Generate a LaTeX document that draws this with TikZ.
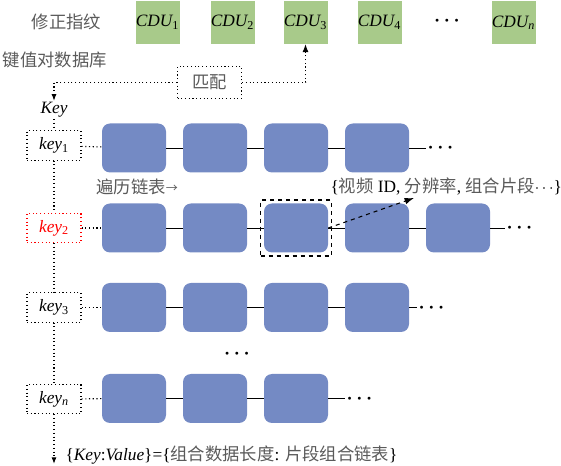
\documentclass[tikz,border=0pt]{standalone}
\usepackage{fontspec}
\setmainfont{Liberation Serif}
\newfontfamily\cjk{Noto Sans CJK SC}
\usetikzlibrary{positioning, arrows.meta}
\definecolor{blockblue}{RGB}{116,138,196}
\definecolor{cdugreen}{RGB}{168,202,138}
\definecolor{cjkgray}{RGB}{90,90,90}

\begin{document}
\begin{tikzpicture}[x=0.75pt, y=-0.75pt,
                  cdu/.style={fill=cdugreen, minimum width=33pt, minimum height=32pt, inner sep=0pt,
                              font=\fontsize{13}{15}\selectfont\itshape},
                  blk/.style={fill=blockblue, rounded corners=6pt, inner sep=0pt,
                              minimum width=48pt, minimum height=36.75pt},
                  keybox/.style={draw, dotted, thick, inner sep=0pt,
                                 minimum width=40.5pt, minimum height=22pt, font=\fontsize{13}{15}\selectfont},
                  lbl/.style={font=\fontsize{13}{15}\selectfont, text=cjkgray},
                  dots/.style={font=\fontsize{14}{15}\selectfont\boldmath, inner sep=1pt},
                  link/.style={thin},
                  conn/.style={dotted, thick},
            ]
            \useasboundingbox (0,0) rectangle (561,466);

            % ---- CDU row (TOP) ----
            \foreach \i/\x/\lab in {1/157.5/1, 2/232.5/2, 3/305.5/3, 4/379.5/4, n/513.5/\textit{n}}{
                        \node[cdu] (cdu\i) at (\x, 22.5) {CDU\textsubscript{\upshape\lab}};
                  }
            \node[dots] (cdudots) at (447, 21) {$\cdots$};
            \node[lbl, anchor=east] (title) at (106, 22) {\cjk 修正指纹};
            \node[lbl, anchor=west] (db) at (-2, 60) {\cjk 键值对数据库};

            % ---- matching ----
            \node[draw, dotted, thick, lbl, minimum width=48pt, minimum height=24pt] (match) at (209.5, 82.5) {\cjk 匹配};
            \node[font=\fontsize{13}{15}\selectfont\itshape, inner sep=1pt] (keylbl) at (54, 110) {Key};
            \draw[conn, -{Latex[length=5pt]}] (match.west) -| (keylbl.north);
            \draw[conn, -{Latex[length=6pt]}] (match.east) -| (cdu3.south);

            % ---- key column (LEFT) ----
            \node[keybox] (k1) at (54, 145.5) {\textit{key}\textsubscript{1}};
            \node[keybox, red, text=red] (k2) at (54, 228) {\textit{key}\textsubscript{2}};
            \node[keybox] (k3) at (54, 307.5) {\textit{key}\textsubscript{3}};
            \node[keybox] (kn) at (54, 399) {\textit{key}\textsubscript{\textit{n}}};
            \coordinate (kvend) at (54, 464);
            \draw[conn] (keylbl) -- (k1);
            \draw[conn] (k1) -- (k2);
            \draw[conn] (k2) -- (k3);
            \draw[conn] (k3) -- (kn);
            \draw[conn, -{Latex[length=5pt]}] (kn) -- (kvend);

            % ---- linked lists (RIGHT) ----
            \foreach \r/\y/\cnt/\dx in {1/148/4/426, 2/228/5/505, 3/307.5/4/417, n/398.5/3/345}{
                        \foreach \i in {1,...,\cnt}{
                                    \node[blk] (B\r\i) at ({134+81*(\i-1)}, \y) {};
                              }
                        \foreach \i in {2,...,\cnt}{
                                    \pgfmathtruncatemacro{\p}{\i-1}
                                    \draw[link] (B\r\p) -- (B\r\i);
                              }
                        \node[dots, anchor=west] (D\r) at (\dx, \y) {$\cdots$};
                        \draw[link] (B\r\cnt) -- (D\r);
                        \draw[conn] (k\r) -- (B\r1);
                  }
            \node[dots] (middots) at (237, 354) {$\cdots$};

            % ---- selected node ----
            \node[draw, dashed, thick, inner sep=0pt, minimum width=53pt, minimum height=42pt] (sel) at (B23) {};
            \node[lbl, text=black, anchor=west, inner sep=1pt] (info) at (329, 186)
            {\{{\cjk\color{cjkgray}视频} ID, {\cjk\color{cjkgray}分辨率}, {\cjk\color{cjkgray}组合片段}$\cdots$\}};
            \coordinate (tip) at (414, 198);
            \draw[dashed, thick, -{Latex[length=7pt, width=5pt]}] (B23.east) -- (tip);
            \node[lbl, anchor=west, inner sep=1pt] (walk) at (95, 187) {\cjk 遍历链表\raisebox{1pt}{\fontsize{9}{9}\selectfont→}};

            % ---- key/value ----
            \node[lbl, text=black, anchor=west, inner sep=1pt] (kv) at (64, 455)
            {\{\textit{Key}:\textit{Value}\}=\{{\cjk\color{cjkgray}组合数据长度}: {\cjk\color{cjkgray}片段组合链表}\}};

      \end{tikzpicture}
\end{document}
